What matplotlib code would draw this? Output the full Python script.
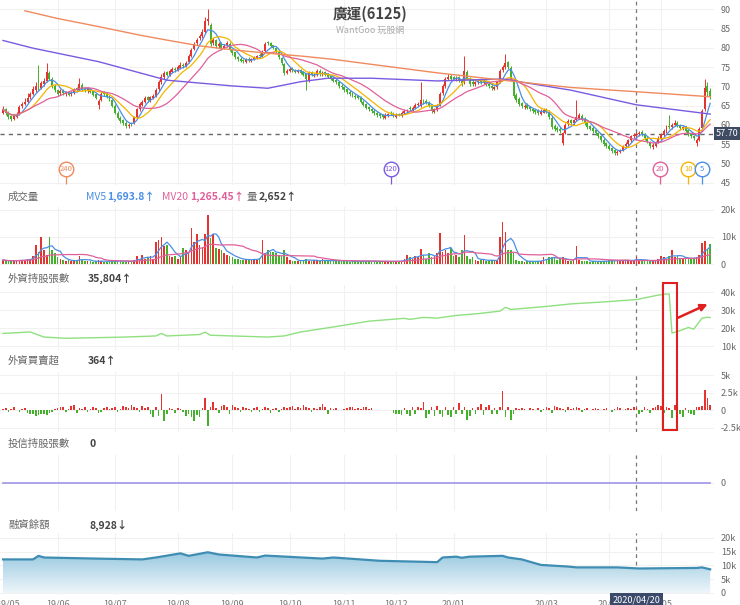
import numpy as np
import pandas as pd
import matplotlib
matplotlib.use("Agg")
import matplotlib.pyplot as plt
import matplotlib.transforms as mtransforms
from matplotlib.patches import Rectangle
from matplotlib.colors import LinearSegmentedColormap

# ---- data (one bar per trading day, 2019/05 .. 2020/05) ----
open_ = [
    63.0, 64.2, 63.2, 62.3, 61.5, 62.0, 62.7, 64.8, 65.5, 65.9,
    67.2, 68.0, 69.0, 70.3, 69.6, 70.5, 71.3, 73.5, 72.0, 70.2,
    69.0, 68.2, 68.9, 68.0, 68.6, 67.9, 68.4, 69.5, 69.0, 70.3,
    69.3, 68.8, 69.3, 68.7, 67.9, 65.2, 66.5, 68.4, 68.1, 67.5,
    66.4, 65.0, 63.2, 61.9, 61.2, 60.6, 59.6, 60.4, 60.5, 62.1,
    64.0, 65.2, 66.0, 67.2, 66.4, 67.0, 67.6, 69.2, 71.0, 72.3,
    73.6, 73.0, 73.8, 74.6, 74.2, 74.8, 75.6, 75.3, 76.2, 78.0,
    79.8, 81.2, 82.5, 83.0, 84.2, 87.0, 86.0, 81.3, 82.0, 80.5,
    81.3, 80.0, 80.6, 81.0, 79.6, 78.8, 77.6, 77.2, 76.8, 76.4,
    77.2, 76.7, 77.0, 77.3, 78.2, 78.0, 79.2, 81.5, 81.2, 80.6,
    80.0, 79.0, 77.4, 75.8, 73.5, 74.0, 74.6, 74.3, 73.7, 74.2,
    73.6, 73.2, 71.5, 73.6, 72.6, 73.0, 74.0, 73.1, 73.6, 73.0,
    72.6, 72.2, 71.6, 71.0, 70.2, 69.8, 69.2, 68.6, 68.1, 67.6,
    67.4, 67.0, 66.0, 65.4, 64.6, 64.2, 63.6, 63.1, 62.8, 62.5,
    61.8, 62.3, 63.2, 62.9, 62.1, 62.8, 62.4, 63.0, 63.5, 64.3,
    63.9, 64.4, 65.1, 65.0, 66.4, 66.2, 65.8, 64.8, 63.3, 63.9,
    65.2, 68.2, 70.0, 72.0, 72.8, 72.3, 71.8, 72.3, 71.5, 71.0,
    73.8, 72.0, 71.2, 70.5, 71.0, 71.8, 71.0, 71.3, 70.6, 70.2,
    69.3, 69.8, 71.2, 74.2, 75.0, 76.2, 74.8, 71.5, 67.8, 66.8,
    65.6, 64.6, 65.2, 64.6, 64.2, 63.9, 63.6, 62.8, 63.2, 64.0,
    63.4, 61.8, 59.8, 59.2, 59.0, 55.2, 58.0, 60.2, 61.2, 60.4,
    61.3, 61.8, 62.4, 61.6, 60.6, 59.6, 59.2, 58.7, 57.9, 57.2,
    56.2, 55.2, 54.6, 54.0, 53.4, 52.6, 52.9, 53.6, 54.4, 55.0,
    56.0, 57.2, 57.2, 57.6, 58.2, 57.6, 56.6, 55.6, 54.2, 54.6,
    55.6, 56.4, 57.4, 58.4, 59.8, 59.4, 60.0, 60.6, 59.9, 59.2,
    59.6, 58.6, 57.6, 57.1, 55.2, 56.2, 59.2, 64.0, 70.0, 68.8,
]
close = [
    64.0, 63.0, 62.0, 61.6, 62.2, 62.8, 64.7, 65.3, 66.0, 67.0,
    68.0, 69.2, 70.0, 69.5, 70.8, 71.5, 73.8, 72.0, 70.0, 69.0,
    68.0, 68.8, 68.2, 68.5, 67.8, 68.3, 69.2, 69.0, 70.5, 69.2,
    69.0, 69.4, 68.6, 67.8, 67.0, 66.2, 68.0, 68.0, 67.3, 66.5,
    65.0, 63.0, 61.8, 61.0, 60.5, 59.8, 60.0, 60.2, 62.0, 64.0,
    65.5, 66.0, 67.0, 66.5, 67.2, 67.5, 69.0, 71.0, 72.5, 73.5,
    73.0, 74.0, 74.5, 74.2, 75.0, 75.5, 75.2, 76.0, 78.0, 79.5,
    81.0, 82.0, 83.0, 84.0, 87.0, 87.5, 81.0, 82.0, 80.5, 81.0,
    80.0, 80.5, 81.2, 79.5, 78.7, 77.5, 77.0, 76.7, 76.5, 77.0,
    76.8, 77.0, 77.5, 77.8, 78.0, 79.0, 81.0, 81.2, 80.5, 80.0,
    79.0, 77.5, 76.0, 73.5, 74.0, 74.5, 74.2, 73.8, 74.0, 73.5,
    73.0, 72.0, 73.5, 73.0, 73.0, 74.0, 73.2, 73.5, 73.0, 72.5,
    72.0, 71.5, 71.0, 70.0, 69.8, 69.0, 68.5, 68.0, 67.5, 67.2,
    67.0, 66.0, 65.2, 64.5, 64.0, 63.5, 63.0, 62.5, 62.2, 62.0,
    62.5, 62.8, 62.8, 62.3, 62.5, 62.5, 63.2, 63.5, 63.8, 64.0,
    64.5, 65.2, 65.5, 66.5, 65.8, 65.8, 65.0, 63.5, 64.0, 65.0,
    68.0, 70.0, 72.0, 72.5, 72.0, 72.0, 72.2, 71.5, 70.8, 74.0,
    72.0, 70.5, 70.5, 71.0, 71.5, 71.0, 71.5, 70.5, 70.0, 69.5,
    69.7, 71.0, 74.0, 75.0, 76.0, 75.0, 72.0, 67.5, 66.5, 65.5,
    64.8, 65.0, 64.5, 64.0, 63.5, 63.3, 63.0, 63.5, 63.8, 63.5,
    62.0, 59.5, 59.0, 58.7, 58.5, 57.8, 60.0, 61.0, 60.5, 61.2,
    62.0, 62.5, 61.5, 60.5, 59.5, 59.0, 58.5, 57.8, 57.0, 56.0,
    55.0, 54.5, 53.8, 53.2, 52.8, 53.0, 53.5, 54.5, 55.0, 56.0,
    57.0, 57.5, 57.7, 58.0, 57.5, 56.5, 55.5, 54.5, 54.8, 55.5,
    56.5, 57.5, 58.5, 59.5, 59.5, 60.0, 60.5, 59.8, 59.3, 59.5,
    58.5, 57.5, 57.0, 56.5, 56.0, 59.0, 63.5, 69.5, 68.5, 67.5,
]
high = [
    65.0, 64.5, 63.5, 62.5, 62.8, 63.4, 65.2, 66.0, 67.0, 68.2,
    68.6, 70.0, 71.0, 75.5, 71.5, 72.2, 76.0, 74.0, 72.4, 70.6,
    69.4, 69.2, 69.2, 68.9, 68.9, 68.8, 69.6, 69.8, 72.2, 70.8,
    69.8, 69.8, 69.6, 68.9, 68.2, 66.8, 68.5, 68.8, 68.5, 67.8,
    66.8, 65.3, 63.5, 62.3, 61.6, 61.0, 60.6, 60.8, 62.4, 64.5,
    66.0, 66.5, 67.5, 67.6, 67.6, 68.0, 69.5, 71.6, 73.2, 74.0,
    74.0, 74.5, 75.0, 75.0, 75.5, 76.2, 76.0, 76.5, 78.5, 80.0,
    81.5, 82.6, 83.5, 85.0, 88.0, 90.0, 86.5, 82.5, 82.4, 81.5,
    81.6, 81.0, 81.8, 81.4, 79.8, 79.0, 77.8, 77.5, 77.2, 77.4,
    77.6, 77.4, 78.0, 78.2, 78.6, 79.4, 81.5, 81.8, 81.6, 80.8,
    80.2, 79.2, 77.6, 76.0, 74.5, 75.0, 75.0, 74.6, 74.4, 74.5,
    74.0, 73.4, 74.0, 74.0, 73.5, 74.5, 74.5, 74.0, 74.0, 73.5,
    72.8, 72.5, 71.8, 71.4, 70.6, 70.2, 69.6, 69.0, 68.5, 68.0,
    67.8, 67.4, 66.4, 65.8, 65.0, 64.5, 64.0, 63.5, 63.2, 62.8,
    63.0, 63.2, 63.6, 63.3, 63.0, 63.0, 63.6, 64.0, 64.2, 64.8,
    65.0, 65.6, 66.0, 71.0, 66.8, 66.6, 66.2, 65.2, 64.4, 65.5,
    68.5, 70.5, 72.5, 73.2, 73.2, 72.8, 72.6, 72.6, 71.8, 78.0,
    74.2, 72.4, 71.6, 71.4, 72.0, 72.2, 71.8, 71.6, 70.8, 70.5,
    70.2, 71.5, 74.5, 75.6, 78.5, 76.5, 75.2, 72.0, 68.2, 67.2,
    66.0, 65.4, 65.6, 65.0, 64.5, 64.2, 64.0, 64.0, 64.3, 64.4,
    63.8, 62.2, 60.2, 59.6, 59.4, 58.2, 60.5, 61.5, 61.5, 61.6,
    66.5, 63.0, 62.8, 62.0, 61.0, 60.0, 59.6, 59.0, 58.2, 57.5,
    56.6, 55.6, 55.0, 54.3, 53.8, 53.4, 53.8, 54.8, 55.5, 56.4,
    57.4, 58.0, 58.2, 58.4, 58.6, 58.0, 57.0, 55.8, 55.2, 55.8,
    57.0, 58.0, 59.0, 60.0, 62.6, 60.4, 61.2, 61.0, 60.3, 59.8,
    59.8, 58.8, 57.8, 57.4, 56.5, 59.5, 64.0, 72.0, 71.2, 69.5,
]
low = [
    62.8, 62.6, 61.5, 61.0, 61.2, 61.8, 62.5, 64.5, 65.2, 65.6,
    66.8, 67.8, 68.6, 69.0, 69.3, 70.2, 71.0, 71.6, 69.6, 68.5,
    67.6, 67.8, 67.8, 67.6, 67.4, 67.6, 68.0, 68.6, 68.8, 68.8,
    68.6, 68.4, 68.2, 67.4, 66.6, 64.0, 66.2, 67.6, 67.0, 66.2,
    64.6, 62.8, 61.4, 60.5, 60.0, 59.2, 59.2, 59.8, 60.2, 61.8,
    63.6, 64.8, 65.6, 66.0, 66.0, 66.6, 67.2, 68.8, 70.5, 72.0,
    72.6, 72.6, 73.4, 73.8, 74.0, 74.4, 74.8, 75.0, 76.0, 77.6,
    79.4, 80.8, 82.0, 82.6, 83.8, 86.0, 80.5, 80.8, 80.0, 80.0,
    79.5, 79.6, 80.2, 79.2, 78.2, 77.0, 76.5, 76.2, 76.0, 76.0,
    76.3, 76.4, 76.8, 77.0, 77.6, 77.6, 79.0, 80.8, 80.2, 79.6,
    78.6, 77.2, 75.6, 73.0, 73.2, 73.6, 73.8, 73.4, 73.4, 73.2,
    72.6, 69.0, 71.2, 72.6, 72.4, 72.8, 72.8, 72.8, 72.6, 72.2,
    71.6, 71.2, 70.6, 69.6, 69.4, 68.6, 68.1, 67.6, 67.2, 66.8,
    66.6, 65.6, 64.8, 64.1, 63.6, 63.1, 62.6, 62.1, 61.8, 61.6,
    61.4, 62.0, 62.5, 62.0, 61.8, 62.2, 62.1, 62.7, 63.2, 63.5,
    63.5, 64.0, 64.8, 64.6, 65.4, 65.4, 64.6, 63.0, 63.0, 63.5,
    65.0, 67.8, 69.6, 71.6, 71.6, 71.6, 71.4, 71.2, 70.2, 70.6,
    71.6, 70.0, 70.0, 70.2, 70.6, 70.6, 70.6, 70.0, 69.5, 69.0,
    69.0, 69.4, 70.8, 73.8, 74.6, 74.6, 71.6, 67.0, 66.0, 65.0,
    64.4, 64.2, 64.0, 63.6, 63.0, 62.8, 62.6, 62.6, 63.0, 63.0,
    61.6, 59.0, 58.5, 58.2, 58.0, 54.8, 57.6, 59.8, 60.0, 60.0,
    61.0, 61.4, 61.0, 60.0, 59.0, 58.6, 58.0, 57.4, 56.6, 55.6,
    54.6, 54.0, 53.4, 52.8, 52.2, 52.2, 52.6, 53.3, 54.0, 54.6,
    55.6, 56.6, 56.8, 57.2, 57.0, 56.2, 55.2, 54.0, 53.8, 54.2,
    55.2, 56.0, 57.0, 58.0, 59.0, 59.0, 59.6, 59.4, 58.8, 58.8,
    58.2, 57.2, 56.6, 56.0, 54.6, 55.8, 58.8, 63.5, 67.5, 66.8,
]
# volume, thousand lots
volume = [
    1.5, 1.2, 1.0, 1.3, 1.1, 1.4, 1.6, 1.2, 1.5, 2.0,
    2.0, 3.0, 7.0, 4.5, 10.0, 5.0, 3.5, 10.0, 5.0, 4.0,
    2.5, 2.0, 1.5, 1.2, 1.3, 1.0, 1.2, 1.4, 2.8, 1.5,
    1.2, 1.0, 1.1, 0.9, 1.0, 1.3, 1.2, 0.9, 0.8, 1.0,
    1.1, 1.3, 1.2, 1.0, 0.9, 0.8, 1.0, 1.2, 1.4, 3.0,
    1.5, 3.5, 2.0, 2.5, 3.0, 2.0, 8.0, 9.0, 10.0, 6.5,
    7.0, 3.0, 2.5, 3.0, 2.0, 3.0, 6.0, 5.0, 4.0, 13.5,
    8.0, 11.0, 7.0, 6.0, 11.0, 18.0, 9.5, 11.0, 6.0, 5.5,
    5.0, 4.0, 3.5, 3.0, 2.5, 2.0, 1.8, 1.5, 1.6, 1.5,
    1.8, 1.5, 2.0, 1.6, 2.2, 9.0, 4.0, 5.0, 4.5, 4.5,
    4.0, 3.5, 3.0, 5.0, 2.5, 1.5, 1.2, 1.0, 1.2, 1.4,
    1.5, 2.0, 1.2, 1.0, 1.4, 1.2, 1.0, 1.8, 1.2, 1.1,
    1.0, 1.2, 1.5, 1.3, 1.1, 1.0, 1.2, 0.9, 1.0, 1.1,
    0.9, 1.0, 1.2, 1.1, 1.0, 0.9, 1.0, 0.8, 0.9, 1.0,
    0.8, 0.9, 1.0, 1.1, 0.9, 1.0, 1.2, 2.0, 3.3, 2.5,
    2.0, 3.0, 2.5, 5.5, 3.5, 2.0, 4.0, 2.5, 3.0, 4.0,
    11.3, 4.5, 5.0, 4.0, 5.8, 3.0, 3.2, 2.5, 5.0, 10.7,
    3.0, 2.0, 2.5, 1.5, 1.2, 1.5, 1.8, 1.2, 1.0, 1.5,
    1.2, 1.5, 10.0, 15.4, 12.0, 5.0, 5.0, 4.0, 1.5, 1.0,
    1.0, 0.8, 1.2, 1.0, 0.9, 1.1, 1.0, 1.2, 2.7, 2.0,
    2.5, 2.7, 2.2, 1.5, 2.0, 2.5, 1.5, 1.2, 1.0, 1.3,
    6.8, 1.5, 1.2, 1.0, 1.1, 0.9, 1.0, 1.2, 0.8, 0.9,
    1.0, 1.2, 1.4, 1.3, 1.1, 1.2, 1.5, 1.3, 1.4, 1.2,
    1.3, 1.5, 2.65, 1.4, 1.2, 1.0, 1.1, 1.3, 1.0, 1.5,
    1.8, 3.0, 2.5, 2.0, 2.8, 5.0, 2.5, 3.0, 2.2, 2.0,
    2.5, 1.8, 2.0, 2.2, 2.5, 3.5, 7.6, 8.5, 5.0, 7.4,
]
# foreign net buy/sell, thousand lots
foreign_net = [
    0.2, 0.3, -0.2, 0.2, 0.4, 0.1, -0.3, 0.2, 0.3, -0.4,
    -0.6, -0.5, -0.8, -0.7, -0.6, -0.5, -0.7, -0.4, -0.3, 0.2,
    0.3, 0.5, 0.4, -0.3, 0.2, 0.6, 0.8, -0.4, 0.3, 0.2,
    0.4, -0.3, 0.2, 0.5, 0.3, -0.4, -0.2, 0.3, 0.4, 0.2,
    0.3, 0.5, -0.3, 0.2, 0.6, 0.4, 0.3, 0.7, 0.5, 0.3,
    -0.3, 0.6, 0.3, 0.5, -0.6, -1.0, 0.4, -0.8, 2.3, -1.6,
    -0.5, 0.3, 0.2, -0.4, 0.3, 0.2, -0.3, -0.8, -0.6, -0.9,
    -1.6, -0.7, -0.9, 0.3, 1.8, -2.2, 0.5, 1.2, 0.3, -0.4,
    0.6, 0.8, 0.4, -0.5, 0.7, 0.5, 0.3, -0.3, 0.4, 0.3,
    0.2, -0.2, 0.3, 0.4, -0.3, 0.2, 0.5, 0.3, -0.4, 0.2,
    0.3, -0.3, 0.2, 0.4, 0.3, 0.5, 0.6, 0.2, 0.4, 0.3,
    0.7, 0.4, 0.3, -0.2, 0.3, 0.2, 0.5, 0.9, 0.4, -0.5,
    0.3, 0.2, 0.3, 0.0, 0.0, 0.2, 0.3, 0.5, 0.4, 0.2,
    0.3, 0.2, 0.5, 0.4, 0.2, 0.3, 0.1, 0.0, 0.0, 0.0,
    0.0, 0.0, 0.0, -0.4, -0.6, -0.5, -0.7, 0.3, -0.5, -0.8,
    0.4, -0.6, 0.5, 0.3, 1.2, -1.1, -0.5, 0.4, -0.8, 0.6,
    -0.6, -0.9, 0.5, -0.7, -1.0, 0.4, -0.5, 1.0, -0.6, 0.4,
    -1.4, -0.8, 0.3, -0.6, 0.5, 0.9, -0.7, 0.4, 0.8, -0.5,
    0.3, -0.6, 0.5, 2.7, -1.0, 0.4, -1.4, -0.6, 0.3, 0.2,
    0.3, 0.2, 0.1, 0.3, 0.2, 0.1, 0.3, -0.3, 0.2, 0.5,
    0.3, -0.4, 0.6, 0.4, 0.3, 0.2, -0.3, 0.4, 0.2, 0.3,
    0.5, 0.3, -0.2, 0.2, 0.3, 0.1, 0.2, 0.3, 0.2, 0.1,
    0.2, 0.3, 0.1, -0.2, 0.2, 0.4, 0.3, 0.1, 0.2, 0.3,
    0.2, 0.5, 0.364, -0.6, -0.3, 0.4, 0.2, -0.4, 0.3, 0.5,
    0.8, 0.6, -0.4, 0.5, 0.3, -1.1, 0.7, 0.4, -0.6, -0.9,
    0.3, -0.4, -0.6, -0.7, 0.4, 0.5, 0.6, 2.9, 1.8, 0.8,
]
trust_hold = [0] * len(close)

# smooth series read at the points where they bend
holding_idx = [0, 10, 15, 23, 33, 45, 56, 58, 60, 72, 74, 76, 84, 97, 103, 109,
               121, 134, 147, 149, 154, 159, 166, 174, 182, 184, 186, 199, 208,
               220, 232, 240, 243, 244, 245, 247, 251, 253, 256, 258, 259]
holding_val = [17.0, 17.8, 15.0, 14.3, 14.6, 15.0, 15.6, 17.0, 15.6, 16.4, 17.7,
               16.0, 15.6, 15.0, 15.6, 17.8, 20.6, 23.8, 25.4, 24.8, 25.9, 25.5,
               27.0, 28.0, 29.4, 31.5, 30.3, 32.0, 33.4, 34.5, 35.8, 38.3, 38.9,
               38.9, 17.2, 18.0, 20.3, 19.4, 25.5, 26.0, 25.8]
margin_idx = [0, 11, 13, 15, 34, 51, 56, 65, 68, 75, 79, 93, 96, 117, 121, 138,
              155, 159, 161, 166, 168, 171, 183, 185, 190, 197, 207, 210, 225,
              233, 254, 256, 259]
margin_val = [12.2, 12.2, 13.5, 12.9, 12.5, 12.2, 12.9, 14.4, 13.5, 14.8, 14.0,
              12.9, 13.6, 12.5, 12.9, 11.7, 11.3, 11.2, 12.9, 13.2, 12.8, 13.2,
              13.5, 12.9, 12.2, 10.2, 9.6, 9.3, 9.3, 8.9, 9.1, 9.3, 8.6]
ma120_idx = [0, 11, 35, 60, 84, 97, 109, 119, 135, 159, 183, 208, 232, 259]
ma120_val = [81.9, 79.9, 76.4, 71.6, 70.1, 69.5, 71.2, 72.1, 72.1, 71.4, 71.9,
             69.0, 65.2, 62.8]
ma240_idx = [8, 20, 35, 50, 60, 72, 85, 97, 110, 121, 135, 159, 183, 208, 232, 259]
ma240_val = [89.6, 87.6, 85.5, 83.3, 82.0, 80.5, 79.4, 78.6, 77.8, 77.0, 75.7,
             73.5, 71.6, 69.7, 68.6, 67.3]

month_idx = [20, 41, 64, 84, 105, 125, 144, 165, 199, 222, 241]
date_idx = [2] + month_idx
date_labels = ["19/05", "19/06", "19/07", "19/08", "19/09", "19/10", "19/11",
               "19/12", "20/01", "20/03", "20/04", "20/05"]
cross_idx = 232
cross_date = "2020/04/20"
cross_price = 57.70

RED = "#e5332f"
GREEN = "#45b02c"
MA_COLORS = {5: "#4a8fe3", 10: "#f4b400", 20: "#e0609a", 120: "#7a5be0", 240: "#f08a5d"}

W, H = 740, 605
plt.rcParams["font.family"] = ["Noto Sans CJK TC", "DejaVu Sans"]
fig = plt.figure(figsize=(W / 100, H / 100), dpi=100)
fig.patch.set_facecolor("white")

x = np.arange(len(close))
o = np.array(open_)
c = np.array(close)
bar_colors = np.where(c >= o, RED, GREEN)


def add_panel(top, bottom, ylim, yticks, ylabels):
    ax = fig.add_axes([0, 1 - bottom / H, 714 / W, (bottom - top) / H])
    ax.set_facecolor("none")
    for s in ax.spines.values():
        s.set_visible(False)
    ax.set_xlim(-1.1, 260.4)
    ax.set_ylim(*ylim)
    ax.set_xticks(month_idx)
    ax.set_yticks(yticks)
    ax.set_yticklabels(ylabels)
    ax.yaxis.tick_right()
    ax.tick_params(axis="x", length=0, labelbottom=False)
    ax.tick_params(axis="y", length=0, labelsize=6.5, labelcolor="#666", pad=5)
    ax.grid(True, color="#f1f1f1", lw=0.8)
    ax.set_axisbelow(True)
    ax.axvline(cross_idx, color="#777", lw=0.9, ls=(0, (3, 3)), zorder=1)
    return ax


def label_row(y, items):
    for xp, txt, col, bold in items:
        fig.text(xp / W, 1 - y / H, txt, color=col, fontsize=7.5, va="center",
                 ha="left", fontweight="bold" if bold else "normal")


# ---- price panel ----
ax = add_panel(0, 185, (44.4, 92.4), range(45, 91, 5), [str(v) for v in range(45, 91, 5)])
ax.vlines(x, low, high, colors=bar_colors, lw=0.7, zorder=3)
ax.bar(x, np.maximum(np.abs(c - o), 0.12), bottom=np.minimum(o, c), width=0.72,
       color=bar_colors, lw=0, zorder=3)
cs = pd.Series(close)
for n in (5, 10, 20):
    ax.plot(x, cs.rolling(n, min_periods=1).mean(), color=MA_COLORS[n], lw=0.9, zorder=4)
ax.plot(ma120_idx, ma120_val, color=MA_COLORS[120], lw=1.0, zorder=4)
ax.plot(ma240_idx, ma240_val, color=MA_COLORS[240], lw=1.0, zorder=4)
ax.axhline(cross_price, color="#666", lw=1.0, ls=(0, (3, 3)), zorder=2)
ax.text(1.003, cross_price, f"{cross_price:.2f}", transform=ax.get_yaxis_transform(),
        ha="left", va="center", fontsize=6.5, color="white", clip_on=False,
        bbox=dict(boxstyle="square,pad=0.25", fc="#3e4b63", ec="none"))
for n, xi in [(240, 23), (120, 142), (20, 240.7), (10, 251), (5, 256)]:
    col = MA_COLORS[n]
    ax.vlines(xi, 44.6, 46.7, color=col, lw=0.9, zorder=5)
    ax.scatter([xi], [48.5], s=110, facecolor="white", edgecolor=col, lw=1.0, zorder=6)
    ax.text(xi, 48.5, str(n), ha="center", va="center", fontsize=5.5, color=col, zorder=7)
fig.text(370 / W, 1 - 14 / H, "廣運(6125)", ha="center", va="center", fontsize=10.5,
         fontweight="bold", color="#444")
fig.text(370 / W, 1 - 30 / H, "WantGoo 玩股網", ha="center", va="center", fontsize=6.5,
         color="#aaa")

# ---- volume panel ----
label_row(197, [(8, "成交量", "#666", False), (86, "MV5", MA_COLORS[5], False),
                (107, "1,693.8↑", MA_COLORS[5], True), (162, "MV20", MA_COLORS[20], False),
                (190, "1,265.45↑", MA_COLORS[20], True), (247, "量", "#666", False),
                (259, "2,652↑", "#444", True)])
axv = add_panel(207, 266, (-0.74, 21.1), [0, 10, 20], ["0", "10k", "20k"])
axv.bar(x, volume, width=0.6, color=bar_colors, lw=0, zorder=3)
vs = pd.Series(volume)
axv.plot(x, vs.rolling(5, min_periods=1).mean(), color=MA_COLORS[5], lw=0.9, zorder=4)
axv.plot(x, vs.rolling(20, min_periods=1).mean(), color=MA_COLORS[20], lw=0.9, zorder=4)

# ---- foreign holdings ----
label_row(279, [(8, "外資持股張數", "#666", False), (88, "35,804↑", "#444", True)])
axh = add_panel(285, 350, (7.8, 43.9), [10, 20, 30, 40], ["10k", "20k", "30k", "40k"])
axh.plot(holding_idx, holding_val, color="#8fe07f", lw=1.0, zorder=3)

# ---- foreign net buy ----
label_row(361, [(8, "外資買賣超", "#666", False), (88, "364↑", "#444", True)])
axn = add_panel(372, 432, (-3.1, 5.47), [-2.5, 0, 2.5, 5], ["-2.5k", "0", "2.5k", "5k"])
fn = np.array(foreign_net)
axn.bar(x, fn, width=0.6, color=np.where(fn >= 0, RED, GREEN), lw=0, zorder=3)

# red highlight box over the holdings drop, drawn on the net-buy panel so nothing covers it
box_tr = mtransforms.blended_transform_factory(axn.transData, fig.transFigure)
axn.add_patch(Rectangle((241.8, 1 - 430 / H), 5.1, 147 / H, transform=box_tr, fill=False,
                        ec="#e02020", lw=1.5, clip_on=False, zorder=8))
axh.annotate("", xy=(259, 33.9), xytext=(246.2, 25.0),
             arrowprops=dict(arrowstyle="-|>", color="#e02020", lw=1.8, mutation_scale=10),
             annotation_clip=False, zorder=8)

# ---- investment trust holdings ----
label_row(444, [(8, "投信持股張數", "#666", False), (90, "0", "#444", True)])
axt = add_panel(455, 511, (-1, 1), [0], ["0"])
axt.plot(x, trust_hold, color="#a59de8", lw=1.3, zorder=3)

# ---- margin balance ----
label_row(525, [(8, "融資餘額", "#666", False), (89, "8,928↓", "#444", True)])
axm = add_panel(533, 594.5, (-0.55, 21.8), [0, 5, 10, 15, 20], ["0", "5k", "10k", "15k", "20k"])
poly = axm.fill_between(margin_idx, margin_val, 0, facecolor="none", edgecolor="none")
grad = np.linspace(0, 1, 256).reshape(-1, 1)
cmap = LinearSegmentedColormap.from_list("m", ["#eef6fa", "#98c9e0"])
im = axm.imshow(grad, cmap=cmap, aspect="auto", origin="lower",
                extent=[margin_idx[0], margin_idx[-1], 0, max(margin_val)], zorder=2)
im.set_clip_path(poly.get_paths()[0], transform=axm.transData)
axm.set_xlim(-1.1, 260.4)
axm.set_ylim(-0.55, 21.8)
axm.plot(margin_idx, margin_val, color="#3f8db3", lw=1.6, zorder=3)
for xi, lab in zip(date_idx, date_labels):
    axm.text(xi, -0.08, lab, transform=axm.get_xaxis_transform(), ha="center", va="top",
             fontsize=6.5, color="#777", clip_on=False)
axm.text(cross_idx, -0.02, cross_date, transform=axm.get_xaxis_transform(), ha="center",
         va="top", fontsize=6.5, color="white", clip_on=False, zorder=9,
         bbox=dict(boxstyle="square,pad=0.3", fc="#3b4a6b", ec="none"))

fig.savefig("out.png", dpi=100)
